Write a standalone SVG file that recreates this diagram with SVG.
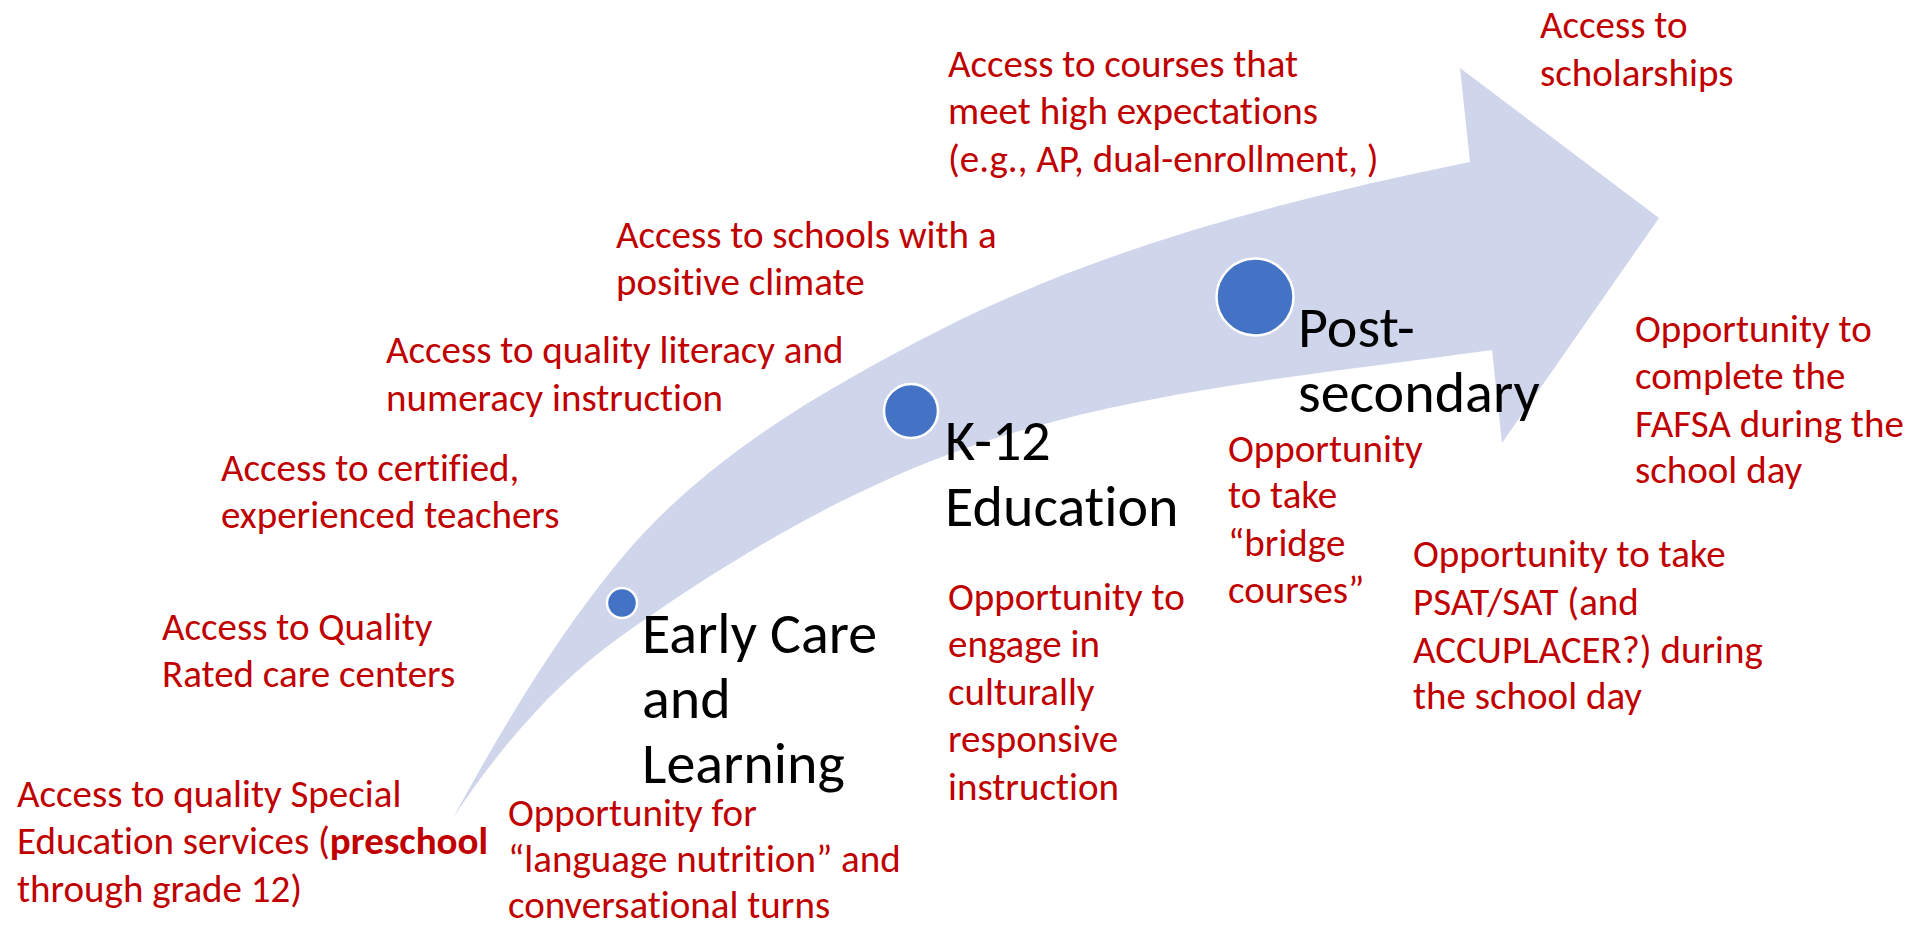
<svg xmlns="http://www.w3.org/2000/svg" width="1911" height="929" viewBox="0 0 1911 929">
<style>
text { font-family: Carlito, Calibri, "Liberation Sans", sans-serif; font-variant-ligatures: none; font-feature-settings: "liga" 0, "clig" 0; }
.r { font-size: 39px; fill: #C00000; }
.k { font-size: 58px; fill: #000000; }
.dot { fill: #4472C4; stroke: #FFFFFF; stroke-width: 2.5; }
.band { fill: #CFD5EA; }
</style>
<rect width="1911" height="929" fill="#FFFFFF"/>
<g id="arrow">
<path class="band" d="M 453,818 C 502,728.5 555,638.7 620,560 C 703.3,458.9 823.3,389.3 940,330 C 1104.8,246.2 1288.7,199 1470,162 L 1460,68 L 1659,218 L 1502,443 L 1492,350 C 1308.9,376.1 1120.2,390.1 947,455 C 830,498.9 721.9,564.6 620,637 C 553.2,684.5 498.1,749.5 453,818 Z"/>
</g>
<g id="stage-early">
<circle class="dot" cx="622" cy="603" r="15"/>
<text class="k" x="642" y="653">Early Care</text>
<text class="k" x="642" y="718">and</text>
<text class="k" x="642" y="783">Learning</text>
</g>
<g id="stage-k12">
<circle class="dot" cx="911" cy="411" r="27"/>
<text class="k" x="945" y="460">K-12</text>
<text class="k" x="945" y="526">Education</text>
</g>
<g id="stage-post">
<circle class="dot" cx="1255" cy="297" r="38.5"/>
<text class="k" x="1298" y="347">Post-</text>
<text class="k" x="1298" y="412">secondary</text>
</g>
<g id="scholarships">
<text class="r" x="1540" y="38">Access to</text>
<text class="r" x="1540" y="86">scholarships</text>
</g>
<g id="courses">
<text class="r" x="948" y="77">Access to courses that</text>
<text class="r" x="948" y="124">meet high expectations</text>
<text class="r" x="948" y="172">(e.g., AP, dual-enrollment, )</text>
</g>
<g id="climate">
<text class="r" x="616" y="248">Access to schools with a</text>
<text class="r" x="616" y="295">positive climate</text>
</g>
<g id="literacy">
<text class="r" x="386" y="363">Access to quality literacy and</text>
<text class="r" x="386" y="411">numeracy instruction</text>
</g>
<g id="teachers">
<text class="r" x="221" y="481">Access to certified,</text>
<text class="r" x="221" y="528">experienced teachers</text>
</g>
<g id="care-centers">
<text class="r" x="162" y="640">Access to Quality</text>
<text class="r" x="162" y="687">Rated care centers</text>
</g>
<g id="special-ed">
<text class="r" x="17" y="807">Access to quality Special</text>
<text class="r" x="17" y="854">Education services (<tspan font-weight="bold">preschool</tspan></text>
<text class="r" x="17" y="902">through grade 12)</text>
</g>
<g id="language">
<text class="r" x="508" y="826">Opportunity for</text>
<text class="r" x="508" y="872">“language nutrition” and</text>
<text class="r" x="508" y="918">conversational turns</text>
</g>
<g id="culturally">
<text class="r" x="948" y="610">Opportunity to</text>
<text class="r" x="948" y="657">engage in</text>
<text class="r" x="948" y="705">culturally</text>
<text class="r" x="948" y="752">responsive</text>
<text class="r" x="948" y="800">instruction</text>
</g>
<g id="bridge">
<text class="r" x="1228" y="462">Opportunity</text>
<text class="r" x="1228" y="508">to take</text>
<text class="r" x="1228" y="556">“bridge</text>
<text class="r" x="1228" y="603">courses”</text>
</g>
<g id="fafsa">
<text class="r" x="1635" y="342">Opportunity to</text>
<text class="r" x="1635" y="389">complete the</text>
<text class="r" x="1635" y="437">FAFSA during the</text>
<text class="r" x="1635" y="483">school day</text>
</g>
<g id="psat">
<text class="r" x="1413" y="567">Opportunity to take</text>
<text class="r" x="1413" y="615">PSAT/SAT (and</text>
<text class="r" x="1413" y="663">ACCUPLACER?) during</text>
<text class="r" x="1413" y="709">the school day</text>
</g>
</svg>
